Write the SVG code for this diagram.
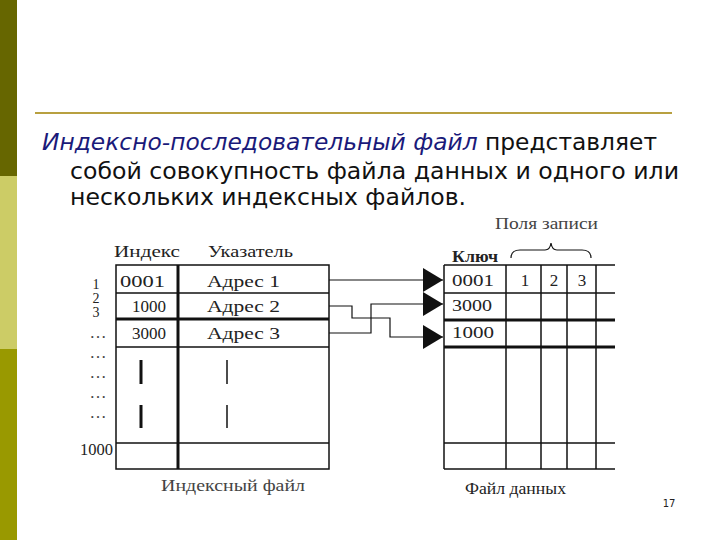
<svg xmlns="http://www.w3.org/2000/svg" width="720" height="540" viewBox="0 0 720 540">
<style>
.t{font-family:"DejaVu Sans","Verdana",sans-serif;font-size:23px;fill:#111}
.s{font-family:"Liberation Serif","Times New Roman",serif;font-size:17px;fill:#222}
.g{font-family:"Liberation Serif","Times New Roman",serif;font-size:17px;fill:#444}
.n{font-family:"Liberation Serif","Times New Roman",serif;font-size:14px;fill:#222}
.ln{stroke:#111;stroke-width:1.5;fill:none}
.tk{stroke:#111;stroke-width:3;fill:none}
.c{stroke:#111;stroke-width:1.2;fill:none}
</style>
<defs>
<marker id="ah" markerWidth="20" markerHeight="24" refX="20" refY="12" orient="auto" markerUnits="userSpaceOnUse">
<path d="M0,0 L20,12 L0,24 Z" fill="#111"/>
</marker>
</defs>
<rect width="720" height="540" fill="#fff"/>
<g id="sidebar">
<rect x="0" y="0" width="17" height="176" fill="#666600"/>
<rect x="0" y="176" width="17" height="173" fill="#cccc66"/>
<rect x="0" y="349" width="17" height="191" fill="#999900"/>
</g>
<line x1="35" y1="113" x2="672" y2="113" stroke="#b8a040" stroke-width="2"/>
<g id="intro">
<text x="42" y="150" class="t" textLength="615" lengthAdjust="spacingAndGlyphs"><tspan font-style="italic" fill="#1a1a7a">Индексно-последовательный файл</tspan> представляет</text>
<text x="70" y="179" class="t" textLength="609" lengthAdjust="spacingAndGlyphs">собой совокупность файла данных и одного или</text>
<text x="70" y="205" class="t" textLength="396" lengthAdjust="spacingAndGlyphs">нескольких индексных файлов.</text>
</g>
<g id="index-file">
<text x="114" y="257" class="s" textLength="66" lengthAdjust="spacingAndGlyphs">Индекс</text>
<text x="208" y="257" class="s" textLength="85" lengthAdjust="spacingAndGlyphs">Указатель</text>
<rect x="116" y="265" width="213" height="204" class="ln"/>
<line x1="178" y1="265" x2="178" y2="469" class="tk"/>
<line x1="116" y1="293" x2="329" y2="293" class="ln"/>
<line x1="116" y1="319" x2="329" y2="319" class="tk"/>
<line x1="116" y1="347" x2="329" y2="347" class="ln"/>
<line x1="116" y1="443" x2="329" y2="443" class="ln"/>
<text x="120" y="287" class="s" textLength="45" lengthAdjust="spacingAndGlyphs">0001</text>
<text x="207" y="287" class="s" textLength="73" lengthAdjust="spacingAndGlyphs">Адрес 1</text>
<text x="132" y="312" class="s" textLength="34" lengthAdjust="spacingAndGlyphs">1000</text>
<text x="207" y="312" class="s" textLength="73" lengthAdjust="spacingAndGlyphs">Адрес 2</text>
<text x="132" y="339" class="s" textLength="34" lengthAdjust="spacingAndGlyphs">3000</text>
<text x="207" y="339" class="s" textLength="73" lengthAdjust="spacingAndGlyphs">Адрес 3</text>
<line x1="141" y1="360" x2="141" y2="384" class="tk" stroke-width="2.5"/>
<line x1="141" y1="405" x2="141" y2="428" class="tk" stroke-width="2.5"/>
<line x1="227" y1="360" x2="227" y2="384" class="ln"/>
<line x1="227" y1="405" x2="227" y2="428" class="ln"/>
<text x="96" y="289" class="n" text-anchor="middle">1</text>
<text x="96" y="303" class="n" text-anchor="middle">2</text>
<text x="96" y="317" class="n" text-anchor="middle">3</text>
<text x="98" y="338" class="g" text-anchor="middle" font-size="12">…</text>
<text x="98" y="358" class="g" text-anchor="middle" font-size="12">…</text>
<text x="98" y="378" class="g" text-anchor="middle" font-size="12">…</text>
<text x="98" y="398" class="g" text-anchor="middle" font-size="12">…</text>
<text x="98" y="418" class="g" text-anchor="middle" font-size="12">…</text>
<text x="80" y="455" class="s" textLength="33" lengthAdjust="spacingAndGlyphs">1000</text>
<text x="161" y="491" class="g" textLength="144" lengthAdjust="spacingAndGlyphs">Индексный файл</text>
</g>
<g id="data-file">
<text x="495" y="229" class="g" textLength="103" lengthAdjust="spacingAndGlyphs">Поля записи</text>
<path d="M511,258 Q511,250 520,250 L545,250 Q550,250 551,243 Q552,250 557,250 L582,250 Q591,250 591,258" class="c"/>
<text x="452" y="262" class="s" font-weight="bold" textLength="46" lengthAdjust="spacingAndGlyphs">Ключ</text>
<line x1="444" y1="265" x2="615" y2="265" class="ln"/>
<line x1="444" y1="265" x2="444" y2="469" class="ln"/>
<line x1="444" y1="469" x2="615" y2="469" class="ln"/>
<line x1="506" y1="265" x2="506" y2="469" class="ln"/>
<line x1="541" y1="265" x2="541" y2="469" class="ln"/>
<line x1="567" y1="265" x2="567" y2="469" class="ln"/>
<line x1="596" y1="265" x2="596" y2="469" class="ln"/>
<line x1="444" y1="293" x2="615" y2="293" class="ln"/>
<line x1="444" y1="320" x2="615" y2="320" class="tk"/>
<line x1="444" y1="347" x2="615" y2="347" class="tk"/>
<line x1="444" y1="443" x2="615" y2="443" class="ln"/>
<text x="452" y="286" class="s" textLength="42" lengthAdjust="spacingAndGlyphs">0001</text>
<text x="452" y="311" class="s" textLength="40" lengthAdjust="spacingAndGlyphs">3000</text>
<text x="452" y="338" class="s" textLength="42" lengthAdjust="spacingAndGlyphs">1000</text>
<text x="525" y="286" class="s" text-anchor="middle">1</text>
<text x="554" y="286" class="s" text-anchor="middle">2</text>
<text x="582" y="286" class="s" text-anchor="middle">3</text>
<text x="465" y="494" class="s" textLength="101" lengthAdjust="spacingAndGlyphs">Файл данных</text>
</g>
<g id="connectors">
<path d="M329,280 L443,280" class="c" marker-end="url(#ah)"/>
<path d="M329,306 L352,306 L352,318 L390,318 L390,337 L443,337" class="c" marker-end="url(#ah)"/>
<path d="M329,333 L371,333 L371,304 L443,304" class="c" marker-end="url(#ah)"/>
</g>
<text x="669" y="507" font-family="DejaVu Sans, sans-serif" font-size="10" fill="#222" text-anchor="middle">17</text>
</svg>
